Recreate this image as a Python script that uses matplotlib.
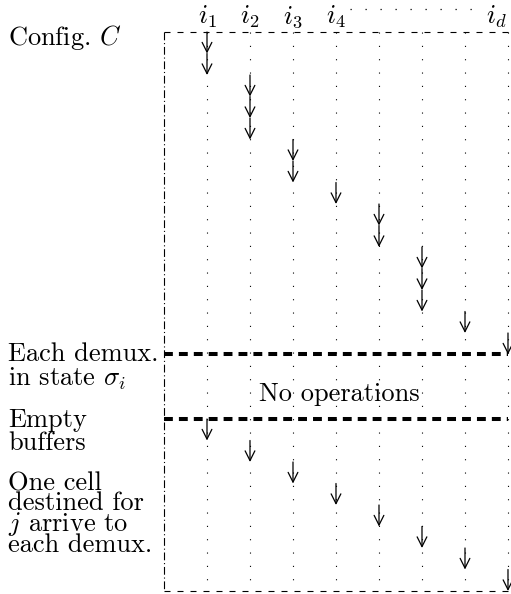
import matplotlib.pyplot as plt
from matplotlib.patches import FancyArrowPatch

plt.rcParams['font.family'] = 'cmr10'
plt.rcParams['mathtext.fontset'] = 'cm'
plt.rcParams['axes.unicode_minus'] = False

# columns (demultiplexers) and their header labels
columns = [1, 2, 3, 4, 5, 6, 7, 8]
col_labels = ['$i_1$', '$i_2$', '$i_3$', '$i_4$', '', '', '', '$i_d$']
# number of consecutive unit steps (arrows) in each column, first phase
top_steps = [2, 3, 2, 1, 2, 3, 1, 1]
idle_steps = 3
# second phase: one arrow per column
bottom_steps = [1, 1, 1, 1, 1, 1, 1, 1]

# (lines, baseline of last line, line spacing)
left_labels = [
    (['Config. $C$'], 0.62, 1.0),
    (['Each demux.', 'in state $\\sigma_i$'], 16.42, 0.96),
    (['Empty', 'buffers'], 19.44, 0.96),
    (['One cell', 'destined for', '$j$ arrive to', 'each demux.'], 24.19, 0.76),
]
middle_text = 'No operations'

fs = 19
fig = plt.figure(figsize=(5.11, 5.94), dpi=100)
ax = fig.add_axes([0, 0, 1, 1])
ax.set_xlim(-3.814, 8.07)
ax.set_ylim(26.14, -1.488)
ax.axis('off')

t_top = sum(top_steps)
t_gap = t_top + idle_steps
t_end = t_gap + sum(bottom_steps)

# frame
ax.plot([0, 0], [0, t_end], color='black', lw=0.8, linestyle=(0, (7, 2.5, 1, 2.5)))
ax.plot([0, columns[-1]], [0, 0], color='black', lw=0.8, linestyle=(0, (5.4, 6.3)))
ax.plot([0, columns[-1]], [t_end, t_end], color='black', lw=0.8, linestyle=(0, (5.4, 6.3)))
for y in (t_top, t_gap):
    ax.plot([0, columns[-1]], [y, y], color='black', lw=2.9, linestyle=(0, (2.2, 1.5)))

# dotted column lines
for c in columns:
    ax.plot([c, c], [0, t_end], color='black', lw=0.8, linestyle=(0, (1, 11)))

def arrow(c, y0, y1):
    ax.add_patch(FancyArrowPatch((c, y0), (c, y1), arrowstyle='->,head_length=0.7,head_width=0.35',
                                 mutation_scale=10, lw=0.9, color='black',
                                 shrinkA=0, shrinkB=0))

t = 0
for c, n in zip(columns, top_steps):
    for k in range(n):
        arrow(c, t, t + 1)
        t += 1
t = t_gap
for c, n in zip(columns, bottom_steps):
    for k in range(n):
        arrow(c, t, t + 1)
        t += 1

# headers
for c, lab in zip(columns, col_labels):
    if lab:
        x = c if c < columns[-1] else 7.74
        ax.text(x, -0.4, lab, fontsize=fs, ha='center', va='baseline')
ax.plot([4.33, 7.42], [-1.07, -1.07], color='black', lw=0.9, linestyle=(0, (1, 11)))

# left labels
for lines, y_last, ls in left_labels:
    ax.text(-3.63, y_last, '\n'.join(lines), fontsize=fs, ha='left', va='baseline',
            linespacing=ls)

ax.text(4.07, 17.15, middle_text, fontsize=fs, ha='center', va='baseline')

fig.savefig('out.png', dpi=100)
